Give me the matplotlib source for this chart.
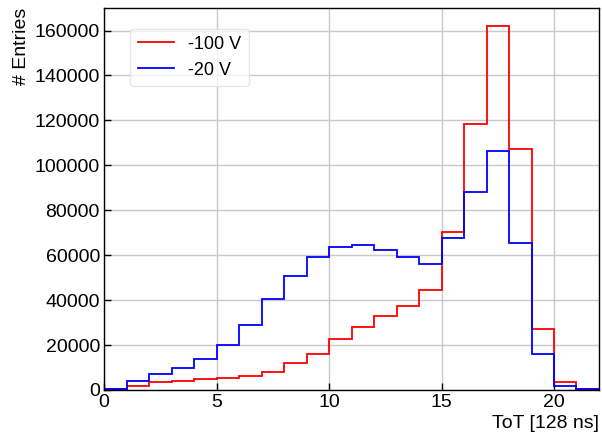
import numpy as np
import matplotlib
matplotlib.use("Agg")
import matplotlib.pyplot as plt

plt.rcParams['font.family'] = ['Liberation Sans', 'DejaVu Sans']

bin_edges = list(range(0, 23))
counts_100V = [300, 1900, 3400, 4100, 4900, 5500, 6200, 8200, 11900, 16200, 22500,
               27900, 33100, 37500, 44400, 70300, 118300, 162200, 107100, 27000, 3400, 300]
counts_20V = [500, 3900, 7100, 9900, 13800, 20000, 29100, 40600, 50800, 59400, 63600,
              64400, 62400, 59300, 56200, 67500, 88300, 106500, 65300, 15900, 1900, 300]
labels = ["-100 V", "-20 V"]
x_label = "ToT [128 ns]"
y_label = "# Entries"

fig = plt.figure(figsize=(6.02, 4.37), dpi=100)
ax = fig.add_axes([0.173, 0.1076, 0.822, 0.874])

ax.stairs(counts_100V, bin_edges, color='red', linewidth=1.3, label=labels[0])
ax.stairs(counts_20V, bin_edges, color='blue', linewidth=1.3, label=labels[1])

ax.set_xlim(0, 22)
ax.set_ylim(0, 170000)
ax.set_xticks([0, 5, 10, 15, 20])
ax.set_yticks(np.arange(0, 170000, 20000))
ax.grid(True, color='#c8c8c8', linewidth=1.0)
ax.set_axisbelow(True)
ax.tick_params(direction='in', labelsize=14, length=5, width=1, pad=3)
for s in ax.spines.values():
    s.set_linewidth(1.0)

ax.set_xlabel(x_label, fontsize=14, loc='right', labelpad=3)
ax.set_ylabel(y_label, fontsize=14, loc='top', labelpad=3)

leg = ax.legend(loc='upper left', bbox_to_anchor=(0.035, 0.97), fontsize=13,
                frameon=True, fancybox=True, framealpha=0.8, edgecolor='#e0e0e0',
                handlelength=2.0, handletextpad=0.8, borderpad=0.4)

fig.savefig("out.png", dpi=100)
